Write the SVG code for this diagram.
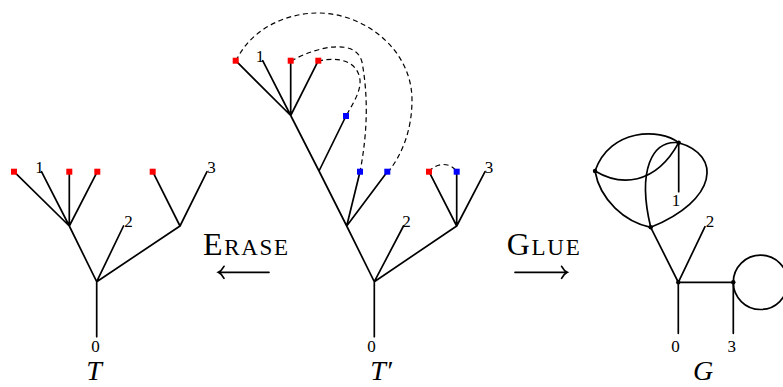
<svg xmlns="http://www.w3.org/2000/svg" width="783" height="387" viewBox="0 0 783 387">
<style>
.e{stroke:#000;stroke-width:1.7;fill:none;stroke-linecap:round}
.d{stroke:#000;stroke-width:1.2;fill:none;stroke-dasharray:5 3.5}
.r{fill:#f00}
.b{fill:#00f}
.lb{font-family:"Liberation Serif",serif;font-size:17px;text-anchor:middle;fill:#000}
.big{font-family:"Liberation Serif",serif;font-size:28px;font-style:italic;text-anchor:middle;fill:#000}
.sc{font-family:"Liberation Serif",serif;fill:#000}
.dot{fill:#000}
</style>
<g id="connectors">
  <path class="d" d="M236,61 C250,30 285,13 318,13 C365,13 412,50 412,100 C412,130 402,155 388,172"/>
  <path class="d" d="M291,61 C318,46 356,38 362,62 C368,95 368,130 360,172"/>
  <path class="d" d="M318,61 C340,56 358,62 360,80 C361,92 352,105 346,116"/>
  <path class="d" d="M429,172 C435,163 450,161 457,172"/>
  <path class="e" d="M96.7,336.7 L96.7,281.7 L69.3,226 M96.7,281.7 L123.5,226 M96.7,281.7 L180,226
    M69.3,226 L14,171.7 M69.3,226 L41.5,171.7 M69.3,226 L69.3,171.7 M69.3,226 L97.3,171.7
    M180,226 L152.7,171.7 M180,226 L207,171.7"/>
  <path class="e" d="M374.3,336.7 L374.3,281.7 L346.7,226 L319,171 L290.7,115.5 M374.3,281.7 L403.5,226 M374.3,281.7 L456.7,226
    M346.7,226 L360,171.7 M346.7,226 L387.3,171.7 M319,171 L346,116
    M290.7,115.5 L235.7,60.7 M290.7,115.5 L262.7,60.7 M290.7,115.5 L290.7,60.7 M290.7,115.5 L318.3,60.7
    M456.7,226 L429,171.7 M456.7,226 L456.7,171.7 M456.7,226 L485,171.7"/>
  <path class="e" d="M678.3,333.3 L678.3,282.3 L650.7,227.3 M678.3,282.3 L705,226.7 M678.3,282.3 L733.3,282.3 L733.3,333.3
    M678.7,142.7 L678.7,191.7"/>
  <path class="e" d="M595,171 C610,128 660,128 678.7,142.7"/>
  <path class="e" d="M595,171 C620,186 655,186 678.7,142.7"/>
  <path class="e" d="M678.7,142.7 C652,140 637,170 650.7,227.3"/>
  <path class="e" d="M678.7,142.7 C722,155 718,200 650.7,227.3"/>
  <path class="e" d="M595,171 C600,200 625,222 650.7,227.3"/>
  <circle class="e" cx="760.5" cy="282.3" r="27.2"/>
  <path class="e" d="M218.3,272.3 L269,272.3 M224,266.3 Q221.5,270.8 218.3,272.3 Q221.5,273.8 224,278.3"/>
  <path class="e" d="M515,272.3 L567.3,272.3 M561.6,266.3 Q564.1,270.8 567.3,272.3 Q564.1,273.8 561.6,278.3"/>
</g>
<g id="tree-T">
  <rect class="r" x="11" y="168.7" width="6" height="6"/>
  <rect class="r" x="66.3" y="168.7" width="6" height="6"/>
  <rect class="r" x="94.3" y="168.7" width="6" height="6"/>
  <rect class="r" x="149.7" y="168.7" width="6" height="6"/>
  <text class="lb" x="39.5" y="172.5">1</text>
  <text class="lb" x="128.5" y="227">2</text>
  <text class="lb" x="211.5" y="173">3</text>
  <text class="lb" x="95.5" y="352">0</text>
  <text class="big" x="94" y="380">T</text>
</g>
<g id="tree-Tprime">
  <rect class="r" x="232.7" y="57.7" width="6" height="6"/>
  <rect class="r" x="287.7" y="57.7" width="6" height="6"/>
  <rect class="r" x="315.3" y="57.7" width="6" height="6"/>
  <rect class="b" x="343" y="113" width="6" height="6"/>
  <rect class="b" x="357" y="168.7" width="6" height="6"/>
  <rect class="b" x="384.3" y="168.7" width="6" height="6"/>
  <rect class="r" x="426" y="168.7" width="6" height="6"/>
  <rect class="b" x="453.7" y="168.7" width="6" height="6"/>
  <text class="lb" x="260" y="61.7">1</text>
  <text class="lb" x="406.5" y="227">2</text>
  <text class="lb" x="489" y="173">3</text>
  <text class="lb" x="371.5" y="352">0</text>
  <text class="big" x="381" y="380">T′</text>
</g>
<g id="graph-G">
  <circle class="dot" cx="678.7" cy="142.7" r="2.2"/>
  <circle class="dot" cx="595" cy="171" r="2.2"/>
  <circle class="dot" cx="650.7" cy="227.3" r="2.2"/>
  <circle class="dot" cx="678.3" cy="282.3" r="2.2"/>
  <circle class="dot" cx="733.3" cy="282.3" r="2.2"/>
  <text class="lb" x="676" y="206">1</text>
  <text class="lb" x="710" y="227">2</text>
  <text class="lb" x="675.5" y="352">0</text>
  <text class="lb" x="731.7" y="352">3</text>
  <text class="big" x="703" y="380">G</text>
</g>
<g id="label-erase">
  <text class="sc" x="203" y="255" textLength="85" lengthAdjust="spacing"><tspan font-size="32">E</tspan><tspan font-size="23">RASE</tspan></text>
</g>
<g id="label-glue">
  <text class="sc" x="506.7" y="255" textLength="73" lengthAdjust="spacing"><tspan font-size="32">G</tspan><tspan font-size="23">LUE</tspan></text>
</g>
</svg>
